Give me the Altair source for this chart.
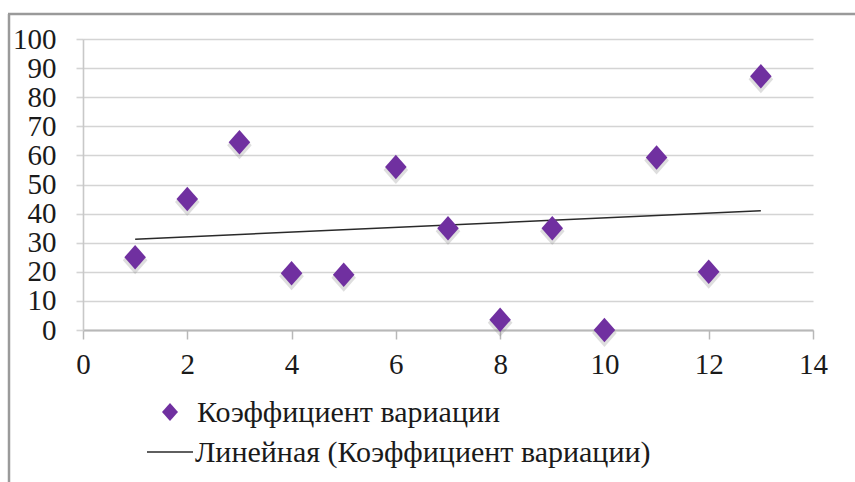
import altair as alt
import pandas as pd

# Coefficient of variation by observation number
obs = list(range(1, 14))
cv = [25, 45, 64.5, 19.5, 19, 56, 35, 3.5, 35, 0, 59.3, 20, 87.2]

series_name = "Коэффициент вариации"
trend_name = "Линейная (Коэффициент вариации)"

x_ticks = [0, 2, 4, 6, 8, 10, 12, 14]
y_ticks = [0, 10, 20, 30, 40, 50, 60, 70, 80, 90, 100]

df = pd.DataFrame({"x": obs, "y": cv})

PURPLE = "#7030A0"
FONT = "Liberation Serif"
DIAMOND = "M-0.88,0L0,-1L0.88,0L0,1Z"

W, H = 730, 291

x_scale = alt.Scale(domain=[0, 14], nice=False, zero=False)
y_scale = alt.Scale(domain=[0, 100], nice=False)

x_axis = alt.Axis(
    values=x_ticks, title=None, grid=False, domain=True, domainColor="#b8b8b8",
    domainWidth=2, ticks=True, tickColor="#b8b8b8", tickWidth=1.5, tickSize=9,
    labelFont=FONT, labelFontSize=29, labelColor="#1a1a1a", labelPadding=11,
    labelFlush=False, labelOverlap=False,
)
y_axis = alt.Axis(
    values=y_ticks, title=None, grid=True, gridColor="#d4d4d4", gridWidth=1.6,
    domain=True, domainColor="#c8c8c8", domainWidth=1.6, ticks=True,
    tickColor="#d4d4d4", tickWidth=1.6, tickSize=7, labelFont=FONT,
    labelFontSize=29, labelColor="#1a1a1a", labelPadding=20,
    labelFlush=False, labelOverlap=False,
)

X = alt.X("x:Q", scale=x_scale, axis=x_axis)
Y = alt.Y("y:Q", scale=y_scale, axis=y_axis)

base = alt.Chart(df)

# soft drop shadow under each marker
shadow = base.mark_point(
    shape=DIAMOND, filled=True, color="#7a7a7a", opacity=0.25, size=780
).encode(x=X, y=Y, yOffset=alt.value(3))

points = base.mark_point(
    shape=DIAMOND, filled=True, color=PURPLE, opacity=1, size=600
).encode(x=X, y=Y)

# least-squares trend line over the observed range
trend = base.transform_regression("x", "y").mark_line(
    color="#2a2a2a", strokeWidth=1.5
).encode(x=X, y=Y)

# legend rows
leg = alt.Chart(pd.DataFrame({"label": [series_name]}))
leg_sym = leg.mark_point(
    shape=DIAMOND, filled=True, color=PURPLE, opacity=1, size=330
).encode(x=alt.value(87), y=alt.value(373))
leg_txt1 = leg.mark_text(
    font=FONT, fontSize=30, align="left", baseline="middle", color="#1a1a1a"
).encode(x=alt.value(114), y=alt.value(374), text="label:N")

leg2 = alt.Chart(pd.DataFrame({"label": [trend_name]}))
leg_line = leg2.mark_rule(color="#2a2a2a", strokeWidth=1.5).encode(
    x=alt.value(64), x2=alt.value(110), y=alt.value(413)
)
leg_txt2 = leg2.mark_text(
    font=FONT, fontSize=30, align="left", baseline="middle", color="#1a1a1a"
).encode(x=alt.value(112), y=alt.value(414), text="label:N")

# outer frame: left and top edges
frame_left = leg.mark_rule(color="#9a9a9a", strokeWidth=2.5).encode(
    x=alt.value(-74), y=alt.value(-25), y2=alt.value(445)
)
frame_top = leg.mark_rule(color="#9a9a9a", strokeWidth=2.5).encode(
    x=alt.value(-75), x2=alt.value(780), y=alt.value(-25)
)

chart = alt.layer(
    trend, shadow, points, leg_sym, leg_txt1, leg_line, leg_txt2,
    frame_left, frame_top,
).properties(
    width=W, height=H,
    autosize=alt.AutoSizeParams(type="none"),
    padding={"left": 83, "top": 39, "right": 42, "bottom": 152},
    background="white",
).configure(font=FONT).configure_view(stroke=None)

chart.save("out.html", embed_options={"renderer": "svg", "actions": False})
